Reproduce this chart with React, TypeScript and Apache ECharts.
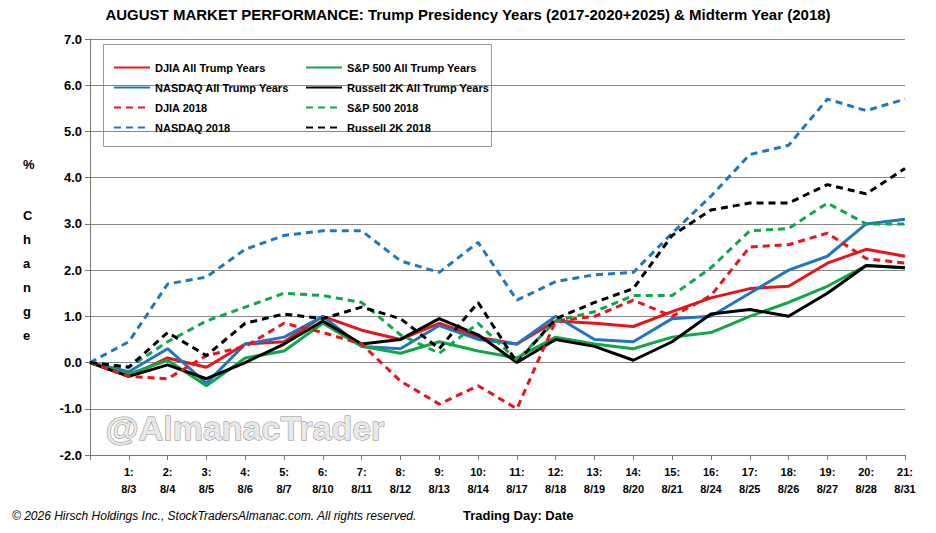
import * as echarts from "echarts";
import { useEffect, useRef } from "react";

const DAYS = ["", "1:\n8/3", "2:\n8/4", "3:\n8/5", "4:\n8/6", "5:\n8/7", "6:\n8/10", "7:\n8/11", "8:\n8/12", "9:\n8/13", "10:\n8/14", "11:\n8/17", "12:\n8/18", "13:\n8/19", "14:\n8/20", "15:\n8/21", "16:\n8/24", "17:\n8/25", "18:\n8/26", "19:\n8/27", "20:\n8/28", "21:\n8/31"];

const djiaAll = [0, -0.3, 0.1, -0.1, 0.4, 0.45, 1.0, 0.7, 0.5, 0.85, 0.55, 0.4, 0.9, 0.85, 0.78, 1.1, 1.4, 1.6, 1.65, 2.15, 2.45, 2.3];
const spxAll = [0, -0.25, 0.05, -0.5, 0.1, 0.25, 0.85, 0.35, 0.2, 0.45, 0.25, 0.1, 0.55, 0.4, 0.3, 0.55, 0.65, 1.0, 1.3, 1.65, 2.1, 2.05];
const nasdaqAll = [0, -0.2, 0.3, -0.45, 0.4, 0.55, 1.0, 0.35, 0.3, 0.8, 0.5, 0.4, 1.0, 0.5, 0.45, 0.95, 1.0, 1.5, 2.0, 2.3, 3.0, 3.1];
const russellAll = [0, -0.3, -0.05, -0.35, 0.0, 0.4, 0.9, 0.4, 0.5, 0.95, 0.6, 0.0, 0.5, 0.35, 0.05, 0.45, 1.05, 1.15, 1.0, 1.5, 2.1, 2.05];
const djia2018 = [0, -0.3, -0.35, 0.15, 0.35, 0.85, 0.65, 0.4, -0.4, -0.9, -0.5, -1.0, 0.9, 1.0, 1.35, 1.0, 1.45, 2.5, 2.55, 2.8, 2.25, 2.15];
const spx2018 = [0, -0.1, 0.45, 0.9, 1.2, 1.5, 1.45, 1.3, 0.6, 0.2, 0.85, 0.05, 0.9, 1.1, 1.45, 1.45, 2.05, 2.85, 2.9, 3.45, 3.0, 3.0];
const nasdaq2018 = [0, 0.45, 1.7, 1.85, 2.45, 2.75, 2.85, 2.85, 2.2, 1.95, 2.6, 1.35, 1.75, 1.9, 1.95, 2.8, 3.6, 4.5, 4.7, 5.7, 5.45, 5.7];
const russell2018 = [0, -0.1, 0.65, 0.15, 0.85, 1.05, 0.95, 1.2, 0.95, 0.3, 1.3, 0.0, 0.95, 1.3, 1.6, 2.75, 3.3, 3.45, 3.45, 3.85, 3.65, 4.2];

const RED = "#e8141b";
const BLUE = "#1f77c0";
const GREEN = "#10a64a";
const BLACK = "#000000";
const FONT = "Liberation Sans";

const SERIES = [
  { name: "DJIA All Trump Years", data: djiaAll, color: RED, dash: false },
  { name: "NASDAQ All Trump Years", data: nasdaqAll, color: BLUE, dash: false },
  { name: "S&P 500 All Trump Years", data: spxAll, color: GREEN, dash: false },
  { name: "Russell 2K All Trump Years", data: russellAll, color: BLACK, dash: false },
  { name: "DJIA 2018", data: djia2018, color: RED, dash: true },
  { name: "NASDAQ 2018", data: nasdaq2018, color: BLUE, dash: true },
  { name: "S&P 500 2018", data: spx2018, color: GREEN, dash: true },
  { name: "Russell 2K 2018", data: russell2018, color: BLACK, dash: true },
];

export default function App() {
  const ref = useRef<HTMLDivElement>(null);

  useEffect(() => {
    const el = ref.current;
    if (!el) return;
    const chart = echarts.init(el, null, { renderer: "svg" });
    const legendBase = {
      orient: "vertical" as const,
      top: 57,
      itemGap: 9,
      itemWidth: 36,
      itemHeight: 13,
      itemStyle: { opacity: 0 },
      textStyle: { fontFamily: FONT, fontSize: 11, fontWeight: "bold" as const, color: "#000" },
    };
    chart.setOption({
      animation: false,
      textStyle: { fontFamily: FONT },
      title: {
        text: "AUGUST MARKET PERFORMANCE: Trump Presidency Years (2017-2020+2025) & Midterm Year (2018)",
        left: "center",
        top: 2,
        textStyle: { fontFamily: FONT, fontSize: 15, fontWeight: "bold", color: "#000" },
      },
      legend: [
        { ...legendBase, left: 108, data: ["DJIA All Trump Years", "NASDAQ All Trump Years", "DJIA 2018", "NASDAQ 2018"] },
        { ...legendBase, left: 300, data: ["S&P 500 All Trump Years", "Russell 2K All Trump Years", "S&P 500 2018", "Russell 2K 2018"] },
      ],
      grid: { left: 90, right: 31, top: 39, bottom: 78 },
      xAxis: {
        type: "category",
        data: DAYS,
        boundaryGap: false,
        axisLine: { onZero: false, lineStyle: { color: "#777" } },
        axisTick: { show: true, lineStyle: { color: "#777" } },
        axisLabel: { interval: 0, color: "#000", fontWeight: "bold", fontSize: 11, lineHeight: 17 },
      },
      yAxis: {
        type: "value",
        min: -2,
        max: 7,
        interval: 1,
        axisLine: { show: true, lineStyle: { color: "#777" } },
        axisTick: { show: true, lineStyle: { color: "#777" } },
        splitLine: { lineStyle: { color: "#888" } },
        axisLabel: { formatter: (v: number) => v.toFixed(1), color: "#000", fontWeight: "bold", fontSize: 13 },
      },
      graphic: [
        { type: "rect", left: 103, top: 44, shape: { width: 388, height: 102 }, style: { fill: "#fff", stroke: "#999", lineWidth: 1 }, z: -1 },
        { type: "text", left: 23, top: 158, style: { text: "%", font: `bold 13px ${FONT}`, fill: "#000" } },
        { type: "text", left: 23, top: 203, style: { text: "C\nh\na\nn\ng\ne", font: `bold 13px ${FONT}`, fill: "#000", lineHeight: 24 } },
        { type: "text", left: 105, top: 410, style: { text: "@AlmanacTrader", font: `bold 34px ${FONT}`, fill: "#e8e8e8", stroke: "#888", lineWidth: 1 } },
        { type: "text", left: 12, top: 510, style: { text: "© 2026 Hirsch Holdings Inc., StockTradersAlmanac.com. All rights reserved.", font: `italic 12px ${FONT}`, fill: "#000" } },
        { type: "text", left: 463, top: 509, style: { text: "Trading Day: Date", font: `bold 13px ${FONT}`, fill: "#000" } },
      ],
      series: SERIES.map((s) => ({
        name: s.name,
        type: "line",
        data: s.data,
        symbol: "none",
        color: s.color,
        lineStyle: { color: s.color, width: 3, type: s.dash ? [7, 5] : "solid" },
      })),
    });
    return () => chart.dispose();
  }, []);

  return <div ref={ref} style={{ position: "absolute", left: 0, top: 0, width: 936, height: 533 }} />;
}
